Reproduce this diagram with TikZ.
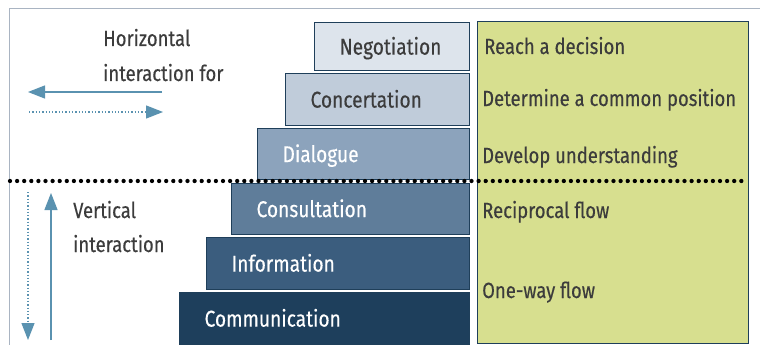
\documentclass[tikz,border=0pt]{standalone}
\usepackage{fontspec}
\setmainfont[FakeStretch=0.84,FakeBold=0.3]{Fira Sans}
\usetikzlibrary{arrows.meta}
\definecolor{frameC}{HTML}{A9B4C2}
\definecolor{edgeC}{HTML}{1F3F5A}
\definecolor{txtC}{HTML}{3C3C3C}
\definecolor{arrC}{HTML}{5A92B0}
\definecolor{greenC}{HTML}{D7DF8F}
\definecolor{cNeg}{HTML}{DDE4EC}
\definecolor{cCon}{HTML}{C0CCDA}
\definecolor{cDia}{HTML}{8CA3BC}
\definecolor{cCsl}{HTML}{5F7D9A}
\definecolor{cInf}{HTML}{3B5D7E}
\definecolor{cCom}{HTML}{1E3F5C}
\tikzset{
  stepbox/.style={draw=edgeC, line width=1.2pt, anchor=north west, inner xsep=25pt, inner ysep=0pt,
    align=left, font=\fontsize{22.8}{25}\selectfont, text height=16pt, text depth=0pt},
  lbl/.style={anchor=base west, inner sep=0pt, text=txtC, font=\fontsize{22}{25}\selectfont},
  arr/.style={draw=arrC, line width=1.3pt, -{Triangle[length=17pt,width=13pt]}},
  darr/.style={arr, dotted},
}
\begin{document}
\begin{tikzpicture}[x=1pt,y=-1pt]
\useasboundingbox (0,0) rectangle (760,345);
\fill[white] (0,0) rectangle (760,345);
% frame
\draw[frameC, line width=1pt] (760,9) -- (9,9) -- (9,345);
% green box
\node[draw=edgeC, line width=1.2pt, fill=greenC, anchor=north west, minimum width=271pt, minimum height=322pt, inner sep=0pt] (green) at (477,21) {};
% steps
\node[stepbox, fill=cNeg, text=txtC, minimum width=155pt, minimum height=48pt, text width=105pt] (neg) at (314,22) {Negotiation};
\node[stepbox, fill=cCon, text=txtC, minimum width=184pt, minimum height=52pt, text width=134pt] (con) at (285,73) {Concertation};
\node[stepbox, fill=cDia, text=white, minimum width=212pt, minimum height=51pt, text width=162pt] (dia) at (257,128) {Dialogue};
\node[stepbox, fill=cCsl, text=white, minimum width=238pt, minimum height=51pt, text width=188pt] (csl) at (231,183) {Consultation};
\node[stepbox, fill=cInf, text=white, minimum width=263pt, minimum height=52pt, text width=213pt] (inf) at (206,237) {Information};
\node[stepbox, fill=cCom, text=white, minimum width=290pt, minimum height=52pt, text width=240pt] (com) at (179,292) {Communication};
% dotted separator
\coordinate (sepL) at (10,181);
\coordinate (sepR) at (748,181);
\draw[black, line width=4.3pt, line cap=round, dash pattern=on 0pt off 7.1pt] (sepL) -- (sepR);
% green labels
\node[lbl] (t1) at (484,54) {Reach a decision};
\node[lbl] (t2) at (482,106) {Determine a common position};
\node[lbl] (t3) at (482,163) {Develop understanding};
\node[lbl] (t4) at (482,218) {Reciprocal flow};
\node[lbl] (t5) at (482,298) {One-way flow};
% left labels
\node[lbl] (h1) at (103,46) {Horizontal};
\node[lbl] (h2) at (103,81) {interaction for};
\node[lbl] (v1) at (73,218) {Vertical};
\node[lbl] (v2) at (73,252) {interaction};
% arrows
\coordinate (ha1) at (162,92); \coordinate (ha2) at (28,92);
\coordinate (hb1) at (29,112); \coordinate (hb2) at (163,112);
\coordinate (va1) at (51,340); \coordinate (va2) at (51,193);
\coordinate (vb1) at (28,192); \coordinate (vb2) at (28,340);
\draw[arr] (ha1) -- (ha2);
\draw[darr] (hb1) -- (hb2);
\draw[arr] (va1) -- (va2);
\draw[darr] (vb1) -- (vb2);
\end{tikzpicture}
\end{document}
